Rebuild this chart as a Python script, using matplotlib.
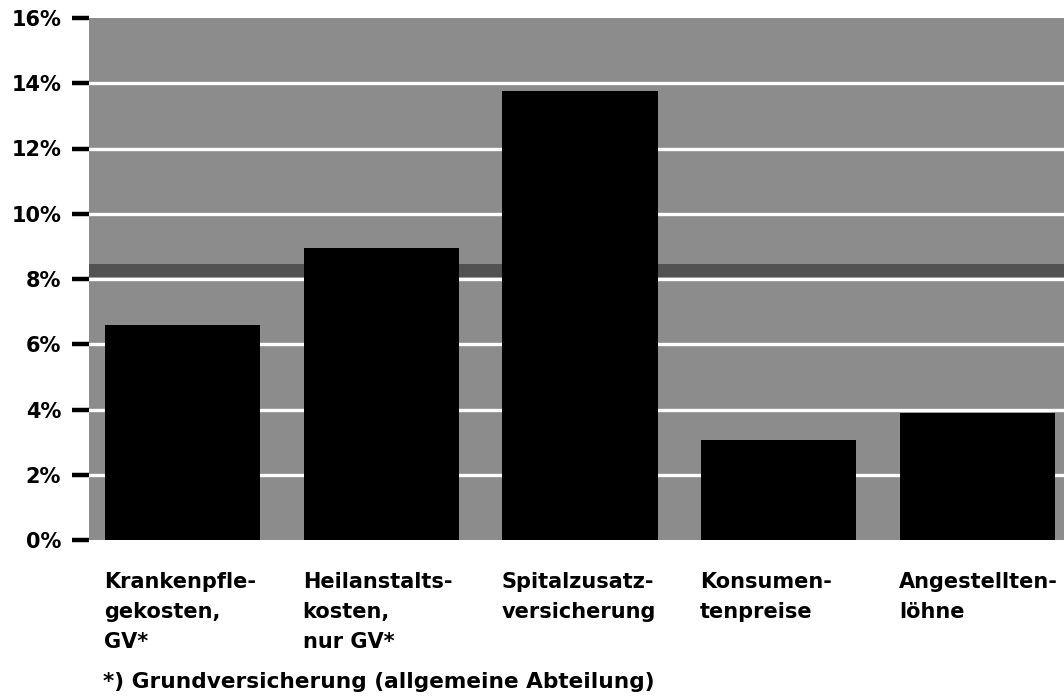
import matplotlib
matplotlib.use("Agg")
import matplotlib.pyplot as plt
import matplotlib.transforms as mtransforms

categories = ["Krankenpfle-\ngekosten,\nGV*",
              "Heilanstalts-\nkosten,\nnur GV*",
              "Spitalzusatz-\nversicherung",
              "Konsumen-\ntenpreise",
              "Angestellten-\nlöhne"]
values = [6.6, 8.95, 13.75, 3.05, 3.9]
yticks = [0, 2, 4, 6, 8, 10, 12, 14, 16]
ytick_labels = ["0%", "2%", "4%", "6%", "8%", "10%", "12%", "14%", "16%"]
avg_band = (8.05, 8.45)
footnote = "*) Grundversicherung (allgemeine Abteilung)"

FONT = ["DejaVu Sans"]
plt.rcParams['font.family'] = FONT

W, H = 1064, 697
fig = plt.figure(figsize=(W / 100, H / 100), dpi=100)
ax = fig.add_axes([89 / W, 1 - 540 / H, 1 - 89 / W, (540 - 18) / H])
ax.set_facecolor("#8c8c8c")

bar_w = 0.78
x = list(range(len(values)))
ax.set_xlim(-0.47, 4.435)
ax.set_ylim(0, 16)

for yv in yticks[1:-1]:
    ax.axhline(yv, color="white", lw=2.4, zorder=1)
ax.axhspan(avg_band[0], avg_band[1], color="#525252", lw=0, zorder=1.5)

ax.bar(x, values, width=bar_w, color="black", zorder=3)

for s in ax.spines.values():
    s.set_visible(False)
ax.set_xticks([])
ax.set_yticks(yticks)
ax.set_yticklabels(ytick_labels, fontsize=15, fontweight="bold")
ax.tick_params(axis="y", length=12, width=3.2, color="black", pad=8)

trans = mtransforms.blended_transform_factory(ax.transData, fig.transFigure)
baselines = [588, 618, 648]
for i, lab in enumerate(categories):
    for j, line in enumerate(lab.split("\n")):
        ax.text(i - bar_w / 2 - 0.005, 1 - baselines[j] / H, line, transform=trans,
                ha="left", va="baseline", fontsize=15, fontweight="bold")

fig.text(103 / W, 1 - 688 / H, footnote, ha="left", va="baseline",
         fontsize=15.6, fontweight="bold")

fig.savefig("out.png", dpi=100)
